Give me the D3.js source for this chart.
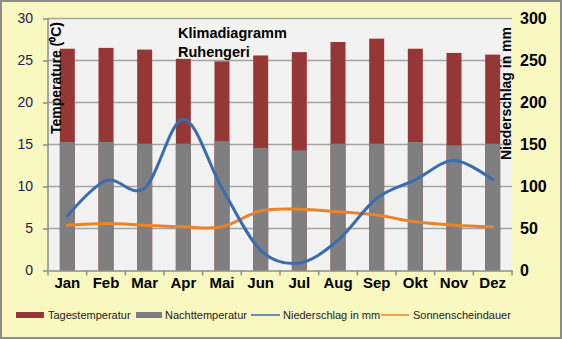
<!DOCTYPE html>
<html><head><meta charset="utf-8">
<script src="https://cdn.jsdelivr.net/npm/d3@7"></script>
<style>body{margin:0;background:#fff}svg{display:block}</style>
</head><body>
<script>
const months = ["Jan","Feb","Mar","Apr","Mai","Jun","Jul","Aug","Sep","Okt","Nov","Dez"];
const dayTemp = [26.4,26.5,26.3,25.2,24.9,25.6,26.0,27.2,27.6,26.4,25.9,25.7];
const nightTemp = [15.3,15.3,15.1,15.1,15.4,14.6,14.3,15.1,15.1,15.3,14.9,15.1];
const precip = [65,107,98,180,98,24,9,36,86,108,131,108];
const sunshine = [5.4,5.6,5.4,5.2,5.2,7.1,7.3,7.0,6.6,5.8,5.4,5.2];
const leftTicks = [0,5,10,15,20,25,30];
const rightTicks = [0,50,100,150,200,250,300];

const W=562,H=339;
const svg=d3.select("body").append("svg").attr("width",W).attr("height",H);
svg.append("rect").attr("x",1).attr("y",1).attr("width",W-2).attr("height",H-2)
  .attr("fill","#f8f8c0").attr("stroke","#8c8c8c").attr("stroke-width",2);

const L=48,R=512,T=18.5,B=270.5;
const x=d3.scaleBand().domain(months).range([L,R]);
const yL=d3.scaleLinear().domain([0,30]).range([B,T]);
const yR=d3.scaleLinear().domain([0,300]).range([B,T]);

svg.append("rect").attr("x",L).attr("y",T).attr("width",R-L).attr("height",B-T).attr("fill","#f2f2f2");
// grid
svg.append("g").selectAll("line").data(leftTicks.filter(d=>d>0)).join("line")
  .attr("x1",L).attr("x2",R).attr("y1",d=>yL(d)).attr("y2",d=>yL(d))
  .attr("stroke","#a3a3a3").attr("stroke-width",1.5);

const bw=15;
svg.append("g").selectAll("rect").data(months).join("rect")
  .attr("x",(d)=>x(d)+x.bandwidth()/2-bw/2).attr("width",bw)
  .attr("y",(d,i)=>yL(dayTemp[i])).attr("height",(d,i)=>B-yL(dayTemp[i]))
  .attr("fill","#953735");
svg.append("g").selectAll("rect").data(months).join("rect")
  .attr("x",(d)=>x(d)+x.bandwidth()/2-bw/2).attr("width",bw)
  .attr("y",(d,i)=>yL(nightTemp[i])).attr("height",(d,i)=>B-yL(nightTemp[i]))
  .attr("fill","#7f7f7f");

const cx=d=>x(d)+x.bandwidth()/2;
const line1=d3.line().x((d,i)=>cx(months[i])).y(d=>yR(d)).curve(d3.curveCardinal.tension(0));
const line2=d3.line().x((d,i)=>cx(months[i])).y(d=>yL(d)).curve(d3.curveCardinal.tension(0));
svg.append("path").attr("d",line2(sunshine)).attr("fill","none").attr("stroke","#e8842c").attr("stroke-width",3).attr("stroke-linecap","round");
svg.append("path").attr("d",line1(precip)).attr("fill","none").attr("stroke","#3a6db0").attr("stroke-width",3).attr("stroke-linecap","round");

// axes
const axL=svg.append("g").attr("transform",`translate(${L},0)`).call(d3.axisLeft(yL).tickValues(leftTicks).tickSize(5).tickPadding(10));
axL.select(".domain").attr("stroke","#8c8c8c").attr("stroke-width",1.5).attr("d",`M-0,${T}V${B}`);
axL.selectAll(".tick line").attr("stroke","#8c8c8c").attr("stroke-width",1.5);
axL.selectAll(".tick text").attr("font-family","Liberation Sans, Arial, sans-serif").attr("font-size",14).attr("fill","#1c1c50");

const axB=svg.append("g").attr("transform",`translate(0,${B})`).call(d3.axisBottom(x).tickSize(0).tickPadding(7));
axB.select(".domain").attr("stroke","#8c8c8c").attr("stroke-width",1.5);
axB.selectAll(".tick text").attr("font-family","Liberation Sans, Arial, sans-serif").attr("font-size",15).attr("font-weight","bold").attr("fill","#000");
svg.append("g").selectAll("line").data(d3.range(13)).join("line")
  .attr("x1",i=>L+i*x.step()).attr("x2",i=>L+i*x.step()).attr("y1",B).attr("y2",B+5)
  .attr("stroke","#8c8c8c").attr("stroke-width",1.5);

const axR=svg.append("g").attr("transform",`translate(${R},0)`).call(d3.axisRight(yR).tickValues(rightTicks).tickSize(0).tickPadding(8));
axR.select(".domain").remove();
axR.selectAll(".tick text").attr("font-family","Liberation Sans, Arial, sans-serif").attr("font-size",16).attr("font-weight","bold").attr("fill","#000");

// titles
const f="Liberation Sans, Arial, sans-serif";
svg.append("text").attr("x",178).attr("y",38).attr("font-family",f).attr("font-size",14.5).attr("font-weight","bold").text("Klimadiagramm");
svg.append("text").attr("x",178).attr("y",57).attr("font-family",f).attr("font-size",14.5).attr("font-weight","bold").text("Ruhengeri");
svg.append("text").attr("transform","translate(61,22) rotate(-90)").attr("text-anchor","end")
  .attr("font-family",f).attr("font-size",14).attr("font-weight","bold").text("Temperature (⁰C)");
svg.append("text").attr("transform","translate(511,27) rotate(-90)").attr("text-anchor","end")
  .attr("font-family",f).attr("font-size",14).attr("font-weight","bold").text("Niederschlag in mm");

// legend
const lg=svg.append("g").attr("font-family",f).attr("font-size",11).attr("fill","#222");
lg.append("rect").attr("x",16).attr("y",312).attr("width",28).attr("height",6).attr("fill","#953735");
lg.append("text").attr("x",48).attr("y",319).text("Tagestemperatur");
lg.append("rect").attr("x",136).attr("y",312).attr("width",26).attr("height",6).attr("fill","#7f7f7f");
lg.append("text").attr("x",165).attr("y",319).text("Nachttemperatur");
lg.append("line").attr("x1",251).attr("x2",280).attr("y1",315).attr("y2",315).attr("stroke","#3a6db0").attr("stroke-width",1.5);
lg.append("text").attr("x",283).attr("y",319).text("Niederschlag in mm");
lg.append("line").attr("x1",381).attr("x2",409).attr("y1",315).attr("y2",315).attr("stroke","#e8842c").attr("stroke-width",1.5);
lg.append("text").attr("x",413).attr("y",319).text("Sonnenscheindauer");
</script>
</body></html>
